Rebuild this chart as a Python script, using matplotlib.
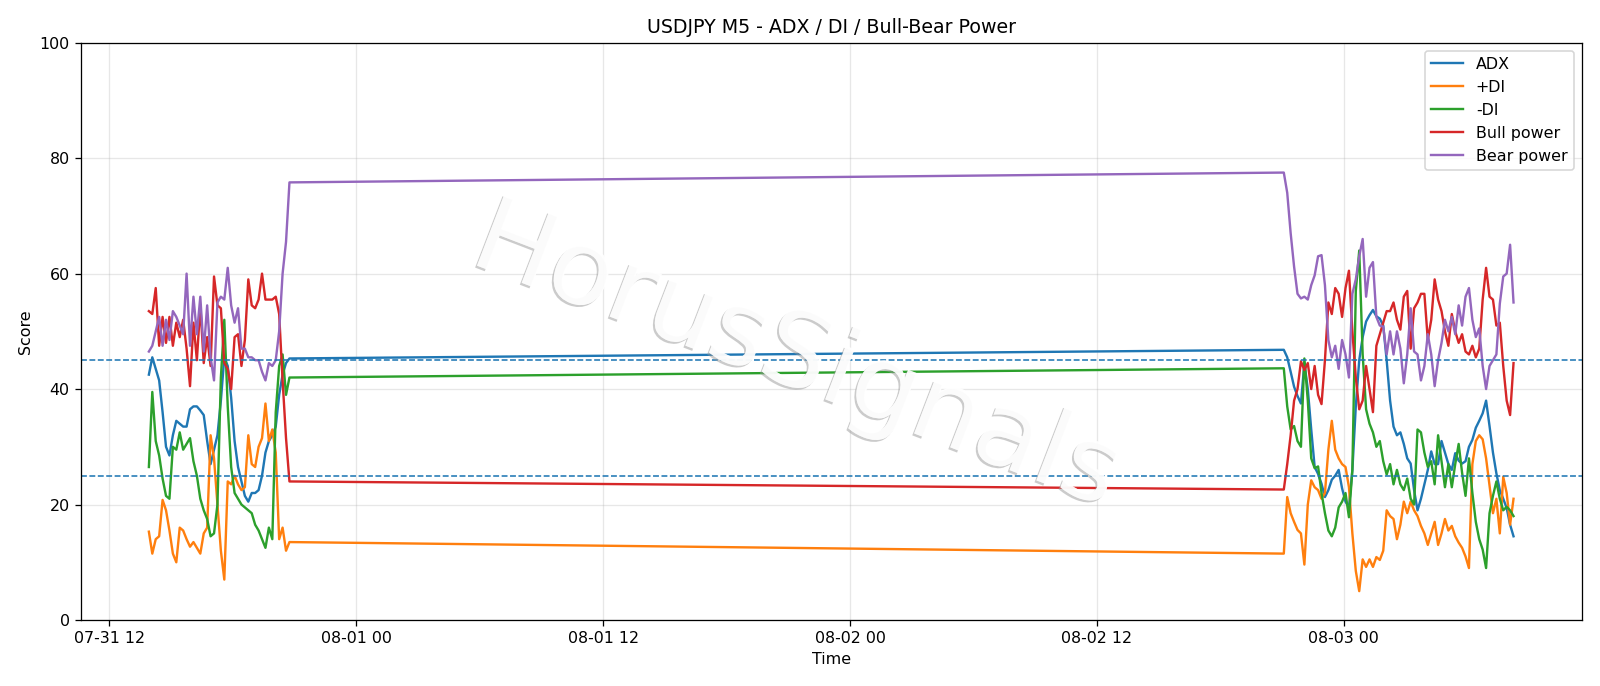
"""
USDJPY M5 - ADX / DI / Bull-Bear Power chart (two trading sessions around a weekend gap).
Values read off the reference picture, sampled every 10 minutes.
"""
import matplotlib
matplotlib.use("Agg")
import matplotlib.pyplot as plt
import matplotlib.dates as mdates
import matplotlib.patheffects as pe
import numpy as np
import pandas as pd


# ---------------- session 1: Friday 07-31 ---------------------------------
START_1 = "2020-07-31 13:55"
ADX_1 = [42.5, 45.5, 43.5, 41.5, 36, 30, 28.5, 32, 34.5, 34, 33.5, 33.5, 36.5, 37,
         37, 36.3, 35.5, 31, 27, 29.5, 32, 38, 45.5, 44, 38.5, 31, 26.5, 24, 21.5,
         20.5, 22, 22, 22.5, 25, 29, 31, 32, 33.5, 39, 42.5, 44.5, 45.3]
PDI_1 = [15.3, 11.5, 14, 14.5, 20.8, 19, 15.5, 11.5, 10, 16, 15.5, 14, 12.7, 13.5,
         12.5, 11.5, 15, 16, 32, 28, 20, 12, 7, 24, 23.5, 25, 23.5, 22.5, 23, 32,
         27, 26.5, 30, 31.5, 37.5, 31, 33, 29, 14, 16, 12, 13.5]
MDI_1 = [26.5, 39.5, 31, 28.5, 24.5, 21.5, 21, 30, 29.5, 32.5, 29.5, 30.5, 31.5, 27.5,
         25, 21, 19, 17.5, 14.5, 15, 20, 42, 52, 37, 26.5, 22, 21, 20, 19.5, 19,
         18.5, 16.5, 15.5, 14, 12.5, 16, 14, 36, 44, 46, 39, 42]
BULL_1 = [53.5, 53, 57.5, 47.5, 52.5, 48, 52.5, 47.5, 51.5, 49, 52, 47, 40.5, 51.5,
          45, 54.5, 44.5, 49, 44, 59.5, 54.5, 54, 44.5, 43.5, 40, 49, 49.5, 44, 48.5,
          59, 54.5, 54, 55.5, 60, 55.5, 55.5, 55.5, 56, 53, 41.5, 31.5, 24]
BEAR_1 = [46.5, 47.5, 50, 52.5, 47.5, 52, 48.5, 53.5, 52.5, 51, 49.5, 60, 47.5, 56,
          49.5, 56, 46.5, 54.5, 45.5, 41.5, 55, 56, 55.5, 61, 54.5, 51.5, 54, 47, 47,
          45.5, 45.5, 45, 45, 43, 41.5, 44.5, 44, 45, 50, 60, 65.5, 75.8]

# ---------------- session 2: Sunday night 08-02 -> Monday 08-03 -----------
START_2 = "2020-08-02 21:05"
ADX_2 = [46.8, 45.5, 43, 40.4, 38.8, 37.5, 44.5, 40, 33, 26.5, 25.3, 23.6, 21.3, 22.5,
         24.3, 25, 26, 22.8, 20.5, 19.5, 26, 37, 45, 49, 51.7, 52.8, 53.7, 52.6, 52.2,
         51, 45, 38, 33.5, 32, 32.5, 30.5, 28, 27.1, 22.5, 19, 21, 23.5, 26, 29.2, 27,
         27, 31, 29, 27, 26, 28.9, 27.6, 27.1, 27.5, 30, 31.2, 33.3, 34.5, 35.8, 38,
         33.6, 29, 25.4, 22.5, 21, 19.4, 16.5, 14.5]
PDI_2 = [11.5, 21.3, 18.5, 17, 15.6, 15, 9.6, 20, 24.2, 23, 22.5, 21, 22, 29.5, 34.5,
         29.5, 28, 27, 26.5, 23, 15, 8.5, 5, 10.5, 9.2, 10.5, 9.2, 10.9, 10.4, 12, 19,
         18, 17.5, 14, 16.5, 20.5, 18.5, 20.5, 19, 18, 16.3, 15, 13, 15, 17, 13, 15,
         17.5, 15.5, 16.3, 14.5, 13.4, 12.5, 11, 9, 27, 31, 32, 31.3, 28, 23.3, 18.5,
         21, 15, 24.8, 22, 16.5, 21]
MDI_2 = [43.6, 37, 33, 33.6, 31, 30, 45.3, 38, 28, 26.3, 26.6, 22, 18.5, 15.5, 14.5,
         16, 19.5, 20.5, 22, 17.8, 26, 57, 64, 46, 36.5, 34, 32.5, 30, 31, 27.5, 25.2,
         27, 23.5, 26, 23.5, 22.5, 24.5, 21, 20, 33, 32.5, 29, 26.5, 27.5, 23.5, 32,
         27.5, 23, 27, 23, 27, 30.5, 25.5, 21.5, 28, 22, 17, 14, 12.2, 9, 18.5, 21.5,
         24, 21, 19, 19.6, 19, 18]
BULL_2 = [22.6, 27, 32, 38, 40, 44.8, 43.3, 44.5, 40, 44, 39, 37.4, 45, 55, 53, 57.5,
          56.5, 52.5, 57.5, 60.5, 50, 42, 36.5, 38, 44, 40, 36, 47.5, 49.5, 51.5, 53.5,
          53.5, 55, 52, 50.3, 56, 57, 47, 54, 55, 56.5, 56.5, 48.5, 52, 59, 55.5, 53.5,
          50, 47.5, 53, 50, 48, 49.5, 46.5, 46, 47.5, 45.5, 47, 55.5, 61, 56, 55.5, 51,
          51.5, 44, 38, 35.5, 44.5]
BEAR_2 = [77.5, 74, 67, 61.2, 56.5, 55.7, 56, 55.5, 58, 59.7, 63, 63.2, 58, 48.5, 45.5,
          47.5, 43.5, 48.5, 46, 42, 56.5, 59, 63, 66, 56, 61, 62, 52.5, 51, 50.8, 46,
          50, 46, 50, 47, 41, 46, 54, 46.5, 46, 41.5, 44, 49.5, 46, 40.5, 45, 48, 52,
          50, 52.5, 49.5, 54.5, 51, 56, 57.5, 52, 49, 50.5, 44, 40, 44, 45, 46, 54.8,
          59.5, 60, 65, 55]

SERIES = ["ADX", "+DI", "-DI", "Bull power", "Bear power"]
LEVELS = [45, 25]


def main() -> None:
    t1 = pd.date_range(START_1, periods=len(ADX_1), freq="10min")
    t2 = pd.date_range(START_2, periods=len(ADX_2), freq="10min")
    times = t1.append(t2)
    data = {
        "ADX": ADX_1 + ADX_2,
        "+DI": PDI_1 + PDI_2,
        "-DI": MDI_1 + MDI_2,
        "Bull power": BULL_1 + BULL_2,
        "Bear power": BEAR_1 + BEAR_2,
    }
    df = pd.DataFrame(data, index=times)

    dpi = 1600 / 14
    fig, ax = plt.subplots(figsize=(14, 686 / dpi), dpi=dpi)
    fig.subplots_adjust(left=0.0504, right=0.9886, top=0.9378, bottom=0.0962)

    for name in SERIES:
        ax.plot(df.index, df[name], lw=1.5, label=name)
    for lvl in LEVELS:
        ax.axhline(lvl, color="#1f77b4", ls="--", lw=1.0)

    ax.set_ylim(0, 100)
    ax.set_title("USDJPY M5 - ADX / DI / Bull-Bear Power")
    ax.set_xlabel("Time")
    ax.set_ylabel("Score")
    ax.xaxis.set_major_locator(mdates.HourLocator(byhour=[0, 12]))
    ax.xaxis.set_major_formatter(mdates.DateFormatter("%m-%d %H"))
    ax.grid(True, alpha=0.3)
    ax.legend(loc="upper right")

    # watermark
    ax.text(0.477, 0.455, "HorusSignals", transform=ax.transAxes,
            fontsize=66, rotation=-21, ha="center", va="center",
            color="white", alpha=0.75, zorder=6,
            path_effects=[pe.withSimplePatchShadow(offset=(-1.2, -1.2),
                                                   shadow_rgbFace="#999999",
                                                   alpha=0.5),
                          pe.Normal()])

    fig.savefig("out.png", dpi=dpi)
    plt.close(fig)


if __name__ == "__main__":
    main()
